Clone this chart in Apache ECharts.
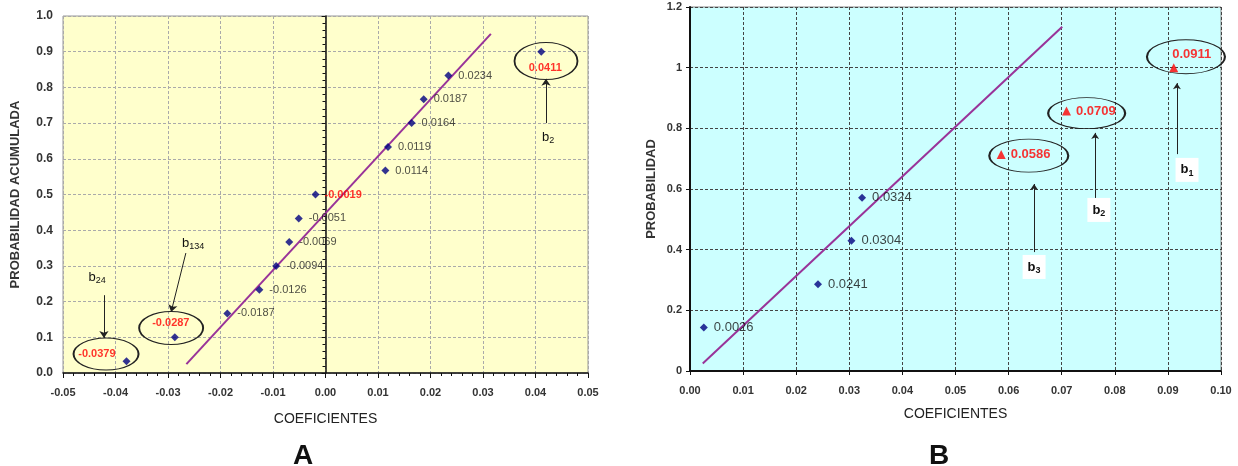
<!DOCTYPE html>
<html><head><meta charset="utf-8">
<script src="https://cdn.jsdelivr.net/npm/echarts@6/dist/echarts.min.js"></script>
<style>html,body{margin:0;padding:0;background:#fff}#c{width:1238px;height:466px}</style>
</head><body><div id="c"></div>
<script>
// ---------- DATA ----------
// Chart A
const coefA = [-0.0379, -0.0287, -0.0187, -0.0126, -0.0094, -0.0069, -0.0051, -0.0019, 0.0114, 0.0119, 0.0164, 0.0187, 0.0234, 0.0411];
const probA = [0.033, 0.100, 0.167, 0.233, 0.300, 0.367, 0.433, 0.500, 0.567, 0.633, 0.700, 0.767, 0.833, 0.900];
const redA = [0, 1, 7, 13];
const fitLineA = [[-0.0265, 0.025], [0.0315, 0.950]];
const xTicksA = [-0.05, 0.05, 0.01];
const yTicksA = [0, 1, 0.1];
// Chart B
const coefB = [0.0026, 0.0241, 0.0304, 0.0324];
const probB = [0.143, 0.286, 0.429, 0.571];
const coefBred = [0.0586, 0.0709, 0.0911];
const probBred = [0.714, 0.857, 1.000];
const fitLineB = [[0.0024, 0.025], [0.0701, 1.135]];
const xTicksB = [0, 0.10, 0.01];
const yTicksB = [0, 1.2, 0.2];

// ---------- STYLE ----------
const F = "'Liberation Sans', Arial, sans-serif";
const chart = echarts.init(document.getElementById('c'), null, {renderer: 'canvas'});

function ellipse(x, y, w, h) {
  return {coord: [x, y], symbol: 'circle', symbolSize: [w, h],
    itemStyle: {color: 'rgba(0,0,0,0)', borderColor: '#222', borderWidth: 1.4}, label: {show: false}};
}
function arrow(x1, y1, x2, y2) { return [{coord: [x1, y1]}, {coord: [x2, y2]}]; }
function bLabel(x, y, sub, bg) {
  return {coord: [x, y], symbol: 'rect', symbolSize: 1, itemStyle: {color: 'rgba(0,0,0,0)'},
    label: {show: true, position: 'inside', formatter: '{b|b}{s|' + sub + '}',
      backgroundColor: bg ? '#fff' : 'transparent', padding: bg ? [4, 5, 4, 5] : 0,
      rich: {b: {fontFamily: F, fontSize: 13, color: '#111', lineHeight: 16, fontWeight: bg ? 'bold' : 'normal'},
             s: {fontFamily: F, fontSize: 9, color: '#111', lineHeight: 16, verticalAlign: 'bottom', padding: [6, 0, 0, 0], fontWeight: bg ? 'bold' : 'normal'}}}};
}

const redLabelPosA = {0: {position: 'left', offset: [-2, -7]}, 1: {position: 'top', offset: [-4, 0]}, 7: {position: 'right', offset: [0, 0]}, 13: {position: 'bottom', offset: [4, 2]}};

const dataA = coefA.map((c, i) => {
  const d = {value: [c, probA[i]]};
  if (redA.includes(i)) {
    d.label = Object.assign({show: true, color: '#ff0000', fontWeight: 'bold', fontFamily: F, fontSize: 11}, redLabelPosA[i]);
  }
  return d;
});
const dataB = coefB.map((c, i) => [c, probB[i]]);
const redLabelPosB = [{position: 'right', offset: [0, 0]}, {position: 'right', offset: [0, 0]}, {position: 'top', offset: [18, 3]}];
const dataBred = coefBred.map((c, i) => ({value: [c, probBred[i]], label: redLabelPosB[i]}));

const axisLabelStyle = {fontFamily: F, fontWeight: 'bold', fontSize: 11, color: '#333'};

chart.setOption({
  animation: false,
  grid: [
    {left: 63, top: 16, width: 525, height: 357, show: true, backgroundColor: '#FFFFCC', borderColor: '#999', borderWidth: 1},
    {left: 690, top: 7, width: 531, height: 364, show: true, backgroundColor: '#CCFFFF', borderColor: '#888', borderWidth: 1}
  ],
  xAxis: [
    {type: 'value', gridIndex: 0, min: xTicksA[0], max: xTicksA[1], interval: xTicksA[2],
     name: 'COEFICIENTES', nameLocation: 'middle', nameGap: 39,
     nameTextStyle: {fontFamily: F, fontSize: 14, color: '#222'},
     axisLine: {onZero: false, lineStyle: {color: '#111', width: 1.5}},
     axisTick: {length: 5, lineStyle: {color: '#111'}},
     minorTick: {show: true, splitNumber: 5, length: 3, lineStyle: {color: '#111'}},
     axisLabel: Object.assign({margin: 14, formatter: v => v.toFixed(2)}, axisLabelStyle),
     splitLine: {lineStyle: {color: '#aaa', type: [3, 2], width: 1}}},
    {type: 'value', gridIndex: 1, min: xTicksB[0], max: xTicksB[1], interval: xTicksB[2],
     name: 'COEFICIENTES', nameLocation: 'middle', nameGap: 36,
     nameTextStyle: {fontFamily: F, fontSize: 14, color: '#222'},
     axisLine: {onZero: false, lineStyle: {color: '#111', width: 2}},
     axisTick: {length: 4, lineStyle: {color: '#111'}},
     axisLabel: Object.assign({margin: 14, formatter: v => v.toFixed(2)}, axisLabelStyle),
     splitLine: {lineStyle: {color: '#444', type: [3, 2], width: 1}}}
  ],
  yAxis: [
    {type: 'value', gridIndex: 0, min: yTicksA[0], max: yTicksA[1], interval: yTicksA[2],
     name: 'PROBABILIDAD ACUMULADA', nameLocation: 'middle', nameGap: 41,
     nameTextStyle: {fontFamily: F, fontWeight: 'bold', fontSize: 13, color: '#333'},
     axisLine: {show: false, onZero: false}, axisTick: {show: false},
     axisLabel: Object.assign({margin: 10, formatter: v => v.toFixed(1)}, axisLabelStyle, {fontSize: 12}),
     splitLine: {lineStyle: {color: '#aaa', type: [3, 2], width: 1}}},
    {type: 'value', gridIndex: 0, position: 'left', min: yTicksA[0], max: yTicksA[1], interval: yTicksA[2],
     axisLine: {show: true, onZero: true, lineStyle: {color: '#111', width: 1.5}},
     axisTick: {show: true, length: 4, lineStyle: {color: '#111'}},
     minorTick: {show: true, splitNumber: 5, length: 3, lineStyle: {color: '#111'}},
     axisLabel: {show: false}, splitLine: {show: false}},
    {type: 'value', gridIndex: 1, min: yTicksB[0], max: yTicksB[1], interval: yTicksB[2],
     name: 'PROBABILIDAD', nameLocation: 'middle', nameGap: 32,
     nameTextStyle: {fontFamily: F, fontWeight: 'bold', fontSize: 13, color: '#333'},
     axisLine: {show: true, onZero: false, lineStyle: {color: '#111', width: 2}},
     axisTick: {length: 4, lineStyle: {color: '#111'}},
     axisLabel: Object.assign({margin: 8}, axisLabelStyle),
     splitLine: {lineStyle: {color: '#444', type: [3, 2], width: 1}}}
  ],
  graphic: [
    {type: 'text', left: 293, top: 442, style: {text: 'A', font: 'bold 28px ' + F, fill: '#111'}},
    {type: 'text', left: 929, top: 442, style: {text: 'B', font: 'bold 28px ' + F, fill: '#111'}}
  ],
  series: [
    {type: 'line', xAxisIndex: 0, yAxisIndex: 0, data: fitLineA, symbol: 'none',
     lineStyle: {color: '#993399', width: 2}, z: 2, silent: true},
    {type: 'scatter', xAxisIndex: 0, yAxisIndex: 0, data: dataA, symbol: 'diamond', symbolSize: 8,
     itemStyle: {color: '#000080'}, z: 3,
     label: {show: true, position: 'right', offset: [1, 0], fontFamily: F, fontSize: 11, color: '#222',
             formatter: p => p.value[0].toFixed(4)},
     markPoint: {silent: true, data: [
       ellipse(-0.0418, 0.053, 65, 32), ellipse(-0.0294, 0.126, 64, 33), ellipse(0.0420, 0.874, 63, 37),
       bLabel(-0.0435, 0.269, '24', false), bLabel(-0.0252, 0.364, '134', false), bLabel(0.0424, 0.661, '2', false)
     ]},
     markLine: {silent: true, symbol: ['none', 'arrow'], symbolSize: 7,
       lineStyle: {color: '#222', width: 1, type: 'solid'}, label: {show: false},
       data: [arrow(-0.0422, 0.218, -0.0422, 0.098), arrow(-0.0266, 0.336, -0.0294, 0.171), arrow(0.0420, 0.700, 0.0420, 0.824)]}},
    {type: 'line', xAxisIndex: 1, yAxisIndex: 2, data: fitLineB, symbol: 'none',
     lineStyle: {color: '#993399', width: 2}, z: 2, silent: true},
    {type: 'scatter', xAxisIndex: 1, yAxisIndex: 2, data: dataB, symbol: 'diamond', symbolSize: 8,
     itemStyle: {color: '#000080'}, z: 3,
     label: {show: true, position: 'right', offset: [1, 0], fontFamily: F, fontSize: 13, color: '#111',
             formatter: p => p.value[0].toFixed(4)}},
    {type: 'scatter', xAxisIndex: 1, yAxisIndex: 2, data: dataBred, symbol: 'triangle', symbolSize: 9,
     itemStyle: {color: '#ff0000'}, z: 3,
     label: {show: true, position: 'right', fontFamily: F, fontWeight: 'bold', fontSize: 13, color: '#ff0000',
             formatter: p => p.value[0].toFixed(4)},
     markPoint: {silent: true, data: [
       ellipse(0.0638, 0.710, 79, 33), ellipse(0.0747, 0.850, 77, 31), ellipse(0.0934, 1.036, 78, 34),
       bLabel(0.0648, 0.343, '3', true), bLabel(0.0770, 0.531, '2', true), bLabel(0.0936, 0.663, '1', true)
     ]},
     markLine: {silent: true, symbol: ['none', 'arrow'], symbolSize: 6,
       lineStyle: {color: '#222', width: 1, type: 'solid'}, label: {show: false},
       data: [arrow(0.0648, 0.392, 0.0648, 0.6165), arrow(0.0763, 0.570, 0.0763, 0.785), arrow(0.0917, 0.715, 0.0917, 0.949)]}}
  ]
});
</script></body></html>
